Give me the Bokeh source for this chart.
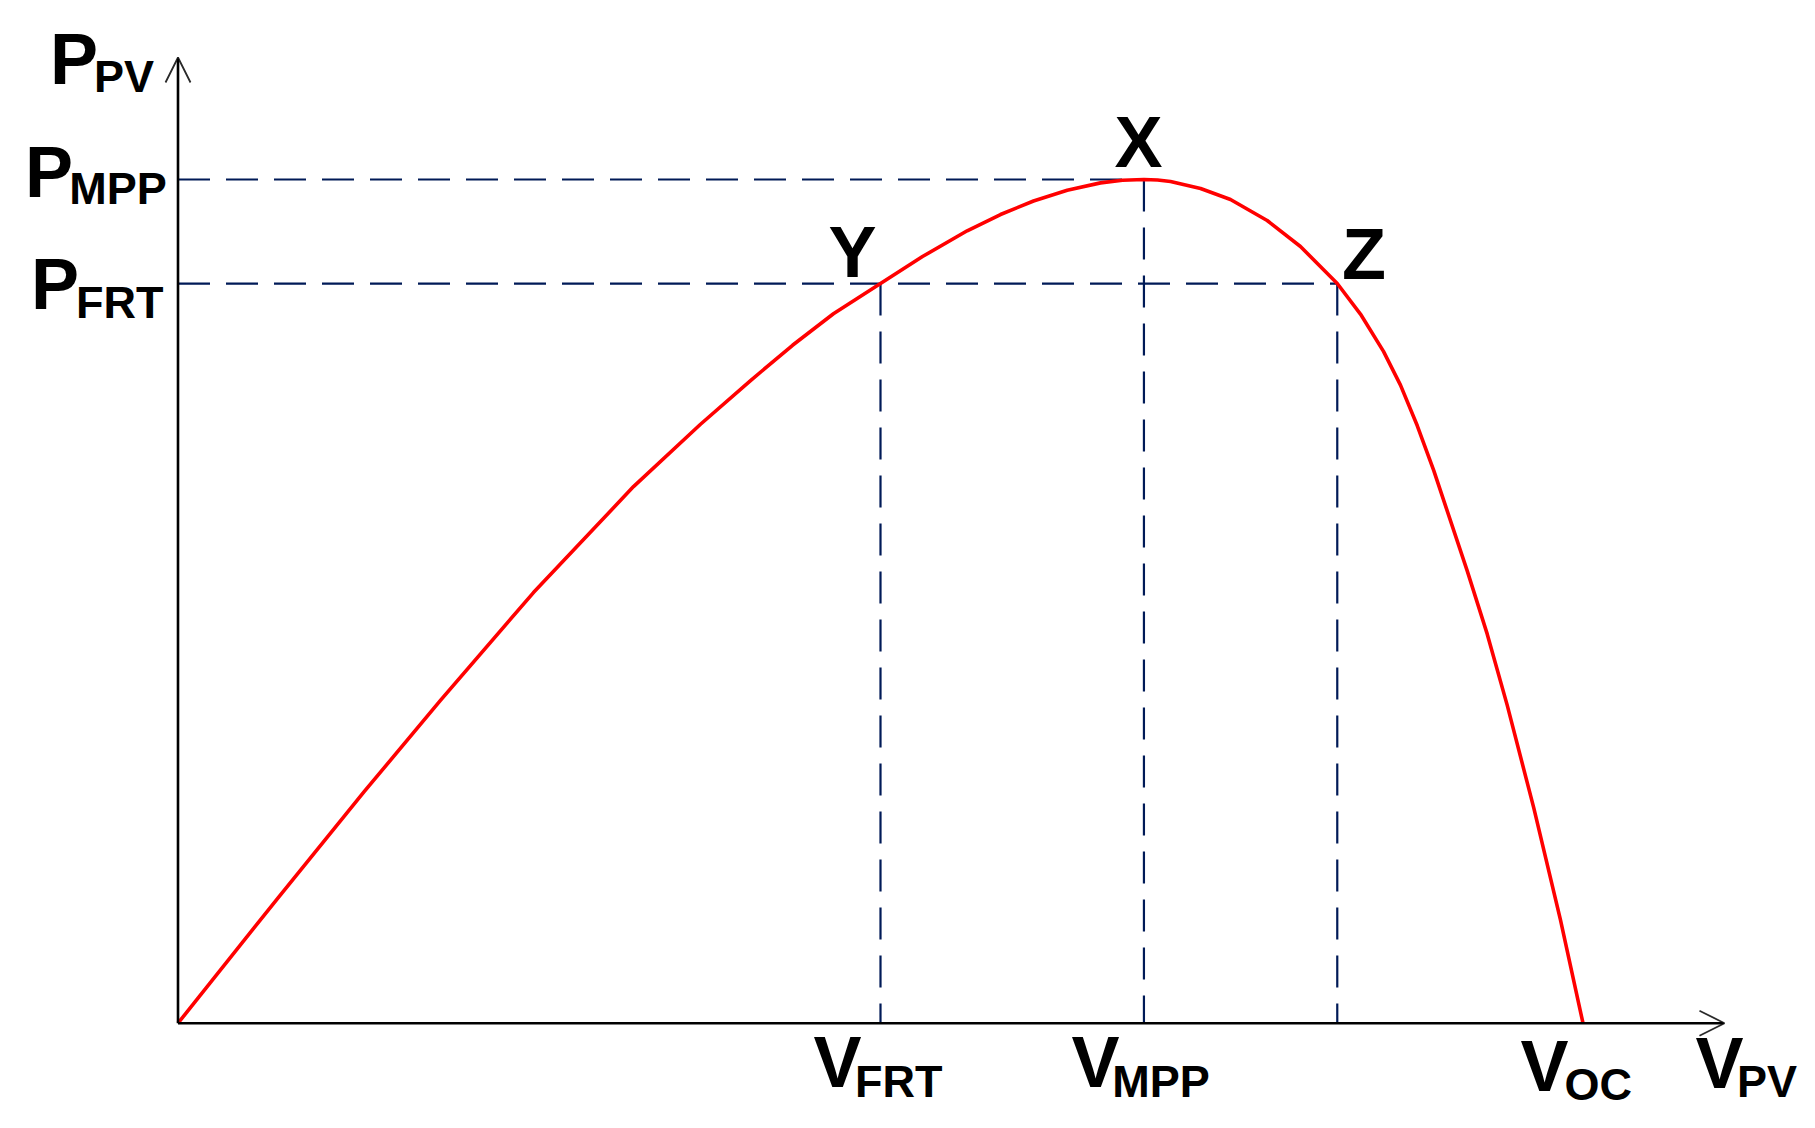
from bokeh.plotting import figure
from bokeh.models import Range1d, Arrow, OpenHead, ColumnDataSource
from bokeh.core.properties import value
from bokeh.embed import file_html
from bokeh.resources import INLINE

# ---------------- data (normalised: V / V_OC, P / P_MPP) ----------------
v_pv = [0.0, 0.0708, 0.1325, 0.1868, 0.2530, 0.3242, 0.3719, 0.4075, 0.4374,
        0.4665, 0.5000, 0.5299, 0.5617, 0.5854, 0.6089, 0.6329, 0.6566, 0.6722,
        0.6875, 0.6972, 0.7064, 0.7278, 0.7491, 0.7752, 0.7989, 0.8251, 0.8416,
        0.8580, 0.8701, 0.8820, 0.8938, 0.9176, 0.9318, 0.9460, 0.9650, 0.9840,
        1.0]
p_pv = [0.0, 0.1478, 0.2744, 0.3826, 0.5104, 0.6360, 0.7099, 0.7617, 0.8035,
        0.8409, 0.8767, 0.9087, 0.9392, 0.9585, 0.9745, 0.9873, 0.9960, 0.9991,
        1.0, 0.9994, 0.9977, 0.9893, 0.9763, 0.9514, 0.9206, 0.8767, 0.8405,
        0.7963, 0.7563, 0.7084, 0.6549, 0.5361, 0.4614, 0.3773, 0.2549, 0.1221,
        0.0]

v_frt = 0.50
v_mpp = 0.6875
v_z = 0.8251
v_oc = 1.0
p_mpp = 1.0
p_frt = 0.8767
axis_v_end = 1.1007
axis_p_end = 1.1446

x_tick_main = ["V", "V", "V", "V"]
x_tick_sub = ["FRT", "MPP", "OC", "PV"]
x_tick_pos = [v_frt, v_mpp, v_oc, axis_v_end]

y_tick_main = ["P", "P", "P"]
y_tick_sub = ["PV", "MPP", "FRT"]
y_tick_pos = [axis_p_end, p_mpp, p_frt]

point_names = ["X", "Y", "Z"]
point_v = [v_mpp, v_frt, v_z]
point_p = [p_mpp, p_frt, p_frt]

# ---------------- figure ----------------
p = figure(width=1799, height=1112, output_backend="svg", toolbar_location=None,
           x_range=Range1d(-0.126335, 1.154093), y_range=Range1d(-0.10584, 1.21216),
           x_axis_location=None, y_axis_location=None, min_border=0)
p.outline_line_color = None
p.background_fill_color = "white"
p.border_fill_color = "white"
p.xgrid.visible = False
p.ygrid.visible = False

FONT = value("Liberation Sans")
DASH_COLOR = "#001a57"
DASH_W = 2.2

# dashed guide lines (horizontal from axis, vertical from top down)
p.line([0, v_mpp], [p_mpp, p_mpp], line_color=DASH_COLOR, line_width=DASH_W, line_dash="32 16")
p.line([0, v_z], [p_frt, p_frt], line_color=DASH_COLOR, line_width=DASH_W, line_dash="32 16")
p.line([v_frt, v_frt], [p_frt, 0], line_color=DASH_COLOR, line_width=DASH_W, line_dash="32 16")
p.line([v_mpp, v_mpp], [p_mpp, 0], line_color=DASH_COLOR, line_width=DASH_W, line_dash="32 16")
p.line([v_z, v_z], [p_frt, 0], line_color=DASH_COLOR, line_width=DASH_W, line_dash="32 16")

# axes with open arrow heads
p.add_layout(Arrow(end=OpenHead(size=25, line_width=1.8, line_color="#2a2a2a"),
                   x_start=0, y_start=0, x_end=0, y_end=axis_p_end,
                   line_width=2.6, line_color="black"))
p.add_layout(Arrow(end=OpenHead(size=25, line_width=1.8, line_color="#2a2a2a"),
                   x_start=0, y_start=0, x_end=axis_v_end, y_end=0,
                   line_width=2.6, line_color="black"))

# P-V curve
p.line(v_pv, p_pv, line_color="#ff0000", line_width=3.6, line_join="round")

# ---------------- labels ----------------
MAIN_SIZE = "72px"
SUB_SIZE = "45px"

# x tick labels (offsets in screen px, y down)
xm_dx = [-67, -72.4, -62.5, -29]
xm_dy = [39.2, 39.2, 42.5, 39.5]
xs_dx = [-25.4, -31.6, -18.5, 12.6]
xs_dy = [57.8, 57.8, 60.8, 57.8]
src = ColumnDataSource(dict(x=x_tick_pos, y=[0] * 4, t=x_tick_main, dx=xm_dx, dy=xm_dy))
p.text(x="x", y="y", text="t", x_offset="dx", y_offset="dy", source=src,
       text_font=FONT, text_font_style="bold", text_font_size=MAIN_SIZE,
       text_baseline="alphabetic", text_align="left", text_color="black")
src = ColumnDataSource(dict(x=x_tick_pos, y=[0] * 4, t=x_tick_sub, dx=xs_dx, dy=xs_dy))
p.text(x="x", y="y", text="t", x_offset="dx", y_offset="dy", source=src,
       text_font=FONT, text_font_style="bold", text_font_size=SUB_SIZE,
       text_baseline="alphabetic", text_align="left", text_color="black")

# y tick labels
ym_dx = [-127.9, -152.9, -146.9]
ym_dy = [1.2, -7.8, 0.2]
ys_dx = [-83.9, -108.7, -101.9]
ys_dy = [18.5, 9.5, 18.5]
src = ColumnDataSource(dict(x=[0] * 3, y=y_tick_pos, t=y_tick_main, dx=ym_dx, dy=ym_dy))
p.text(x="x", y="y", text="t", x_offset="dx", y_offset="dy", source=src,
       text_font=FONT, text_font_style="bold", text_font_size=MAIN_SIZE,
       text_baseline="alphabetic", text_align="left", text_color="black")
src = ColumnDataSource(dict(x=[0] * 3, y=y_tick_pos, t=y_tick_sub, dx=ys_dx, dy=ys_dy))
p.text(x="x", y="y", text="t", x_offset="dx", y_offset="dy", source=src,
       text_font=FONT, text_font_style="bold", text_font_size=SUB_SIZE,
       text_baseline="alphabetic", text_align="left", text_color="black")

# point labels X, Y, Z
pt_dx = [-5.4, -28, 26.8]
pt_dy = [-37.8, -31.8, -29.8]
src = ColumnDataSource(dict(x=point_v, y=point_p, t=point_names, dx=pt_dx, dy=pt_dy))
p.text(x="x", y="y", text="t", x_offset="dx", y_offset="dy", source=src,
       text_font=FONT, text_font_style="bold", text_font_size=MAIN_SIZE,
       text_baseline="alphabetic", text_align="center", text_color="black")

open("out.html", "w").write(file_html(p, INLINE))
